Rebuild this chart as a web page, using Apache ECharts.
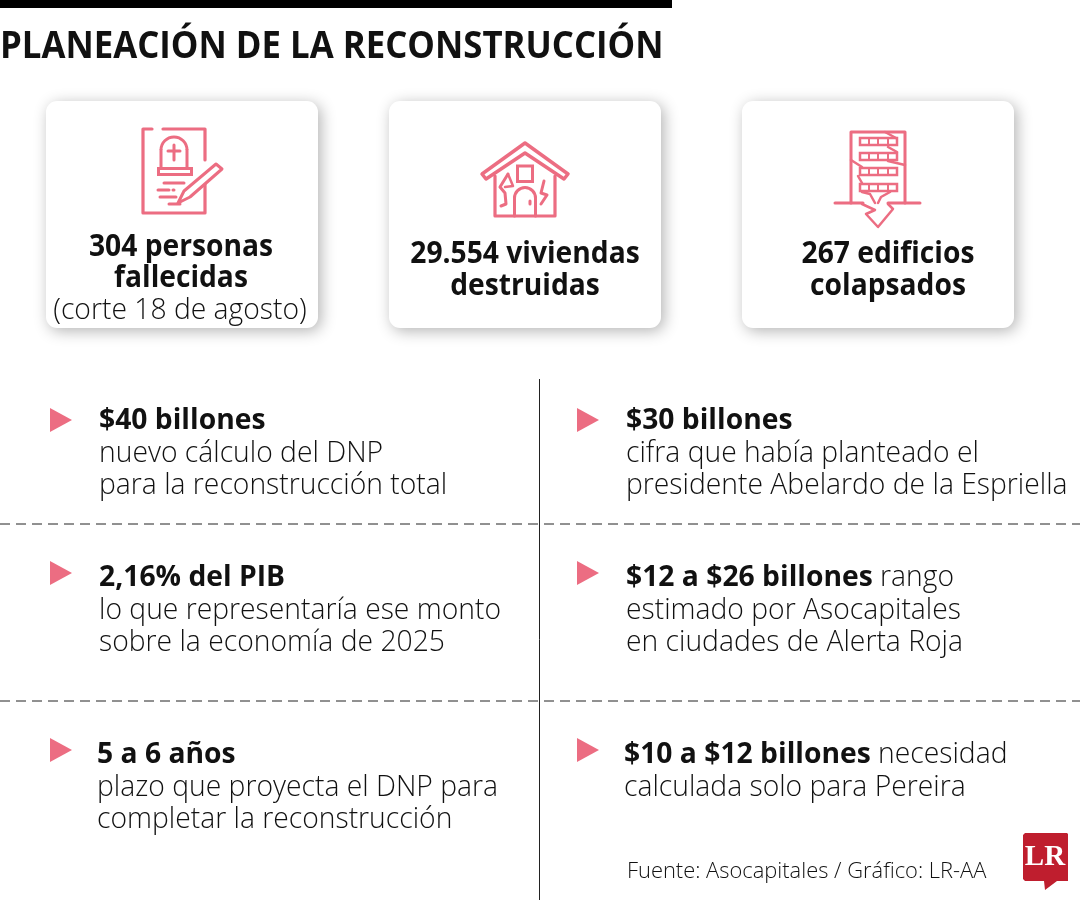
<!DOCTYPE html>
<html lang="es">
<head>
<meta charset="UTF-8">
<title>Planeación de la reconstrucción</title>
<script src="https://cdn.jsdelivr.net/npm/echarts@6/dist/echarts.min.js"></script>
<style>html,body{margin:0;background:#fff}#main{width:1080px;height:900px}</style>
</head>
<body>
<div id="main"></div>
<script>
const titleText = 'PLANEACIÓN DE LA RECONSTRUCCIÓN';
const cardLeads = [['304 personas', 'fallecidas'], ['29.554 viviendas', 'destruidas'], ['267 edificios', 'colapsados']];
const cardNote = '(corte 18 de agosto)';
const factsLeft = [
  ['{b|$40 billones}', 'nuevo cálculo del DNP', 'para la reconstrucción total'],
  ['{b|2,16% del PIB}', 'lo que representaría ese monto', 'sobre la economía de 2025'],
  ['{b|5 a 6 años}', 'plazo que proyecta el DNP para', 'completar la reconstrucción']
];
const factsRight = [
  ['{b|$30 billones}', 'cifra que había planteado el', 'presidente Abelardo de la Espriella'],
  ['{b|$12 a $26 billones} rango', 'estimado por Asocapitales', 'en ciudades de Alerta Roja'],
  ['{b|$10 a $12 billones} necesidad', 'calculada solo para Pereira']
];
const sourceText = 'Fuente: Asocapitales / Gráfico: LR-AA';

const PINK = '#ec6d82', INK = '#111', FONT = '"Open Sans"';
const els = [];

function text(x, y, str, size, weight, sx, align) {
  els.push({
    type: 'text', x: x, y: y, scaleX: sx || 1, z: 5,
    style: {
      text: str, fontFamily: FONT, fontSize: size, fontWeight: weight, fill: INK,
      align: align || 'left', verticalAlign: 'middle',
      rich: { b: { fontFamily: FONT, fontSize: size, fontWeight: 700, fill: INK } }
    }
  });
}
function line(points, width, color) {
  els.push({
    type: 'polyline', z: 4, shape: { points: points },
    style: { stroke: color || PINK, lineWidth: width || 3, fill: null, lineCap: 'round', lineJoin: 'round' }
  });
}
function box(x, y, w, h, width, r) {
  els.push({
    type: 'rect', z: 4, shape: { x: x, y: y, width: w, height: h, r: r || 0 },
    style: { stroke: PINK, lineWidth: width || 3, fill: null }
  });
}
function archTop(cx, cy, r) {
  els.push({
    type: 'arc', z: 4, shape: { cx: cx, cy: cy, r: r, startAngle: Math.PI, endAngle: 0, clockwise: true },
    style: { stroke: PINK, lineWidth: 3, fill: null }
  });
}

// header
els.push({ type: 'rect', shape: { x: 0, y: 0, width: 672, height: 8 }, style: { fill: '#000' } });
text(0, 47, titleText, 38, 700, 0.915);

// cards
[46, 389, 742].forEach(function (x) {
  els.push({
    type: 'rect', z: 2, shape: { x: x, y: 101, width: 272, height: 227, r: 11 },
    style: { fill: '#fff', shadowBlur: 15, shadowOffsetX: 3, shadowOffsetY: 3, shadowColor: 'rgba(0,0,0,0.3)' }
  });
});
text(181, 247, cardLeads[0][0], 30, 700, 0.94, 'center');
text(181, 278, cardLeads[0][1], 30, 700, 0.94, 'center');
text(180, 311, cardNote, 29, 300, 0.975, 'center');
text(525, 254, cardLeads[1][0], 30, 700, 0.94, 'center');
text(525, 286, cardLeads[1][1], 30, 700, 0.94, 'center');
text(888, 254, cardLeads[2][0], 30, 700, 0.94, 'center');
text(888, 286, cardLeads[2][1], 30, 700, 0.94, 'center');

// grave icon
line([[152, 129], [143, 129], [143, 213], [205, 213], [205, 181]], 3.2);
line([[163, 129], [205, 129], [205, 160]], 3.2);
archTop(174, 150, 13);
line([[161, 150], [161, 167]]);
line([[187, 150], [187, 167]]);
box(158.5, 168.5, 33, 6, 3);
line([[174, 145], [174, 160]]);
line([[168, 151], [180, 151]]);
line([[164, 183], [184, 183]]);
line([[158, 190], [169, 190]]);
line([[160, 197], [176, 197]]);
line([[169, 204], [180, 204]]);
line([[173, 190], [174, 190]]);
els.push({
  type: 'polygon', z: 4, shape: { points: [[184, 191], [216, 164], [222, 169], [190, 197], [178, 203]] },
  style: { stroke: PINK, lineWidth: 3, fill: '#fff', lineJoin: 'round' }
});

// house icon
els.push({
  type: 'polygon', z: 4, shape: { points: [[482, 174], [525, 143], [568, 174], [564, 179], [525, 153], [486, 179]] },
  style: { stroke: PINK, lineWidth: 3.5, fill: null, lineJoin: 'round' }
});
line([[495, 176], [495, 216], [555, 216], [555, 176]], 3.2);
box(517.5, 166, 15, 15.5, 3);
archTop(525, 198, 10.5);
line([[514.5, 198], [514.5, 216]]);
line([[535.5, 198], [535.5, 216]]);
line([[530, 201], [530, 204]]);
line([[508, 174], [500, 187], [505, 193], [506, 204], [501, 206]], 3);
line([[508, 174], [513, 186], [505, 187]], 2.5);
line([[544, 181], [541, 193], [547, 195], [541, 204]], 3);

// building icon
line([[851, 203], [851, 132], [905, 132], [905, 203]]);
line([[835, 203], [863, 203]]);
line([[888, 203], [920, 203]]);
[138, 153, 168, 184].forEach(function (y) {
  box(860, y, 37, 7, 2.5);
  [869, 878, 888].forEach(function (x) { line([[x, y], [x, y + 7]], 2); });
});
line([[885, 132], [896, 138]], 2.5);
line([[888, 147], [897, 152]], 2.5);
line([[888, 161], [905, 165]], 2.5);
line([[851, 160], [862, 167]], 2.5);
line([[858, 176], [862, 183]], 2.5);
line([[862, 192], [870, 194], [875, 203]], 2.5);
line([[890, 192], [881, 197], [878, 203]], 2.5);
line([[862, 204], [875, 210], [866, 214], [878, 227], [893, 209], [888, 204]], 2.5);

// dividers
els.push({ type: 'line', shape: { x1: 539.5, y1: 379, x2: 539.5, y2: 900 }, style: { stroke: '#222', lineWidth: 1 } });
[524, 701].forEach(function (y) {
  els.push({
    type: 'line', shape: { x1: 0, y1: y, x2: 1080, y2: y },
    style: { stroke: '#222', lineWidth: 1, lineDash: [10, 6] }
  });
});

// fact blocks
const rowY = [419, 576, 753];
const PITCH = 32.5;
function facts(list, tx, tri) {
  list.forEach(function (rows, i) {
    const y = rowY[i];
    const triTop = [408, 561, 738][i];
    els.push({
      type: 'polygon', shape: { points: [[tri, triTop], [tri + 22, triTop + 12], [tri, triTop + 24]] },
      style: { fill: PINK }
    });
    rows.forEach(function (s, j) {
      text(i === 2 ? tx - 2 : tx, y + j * PITCH + 2, s, 29, 300, 0.975);
    });
  });
}
facts(factsLeft, 99, 50);
facts(factsRight, 626, 577);

// footer and logo
text(627, 872, sourceText, 22, 300, 0.995);
els.push({
  type: 'polygon', z: 4, shape: { points: [[1025, 833], [1067, 833], [1068, 834], [1068, 881], [1057, 881], [1045, 890], [1044, 881], [1025, 881], [1023, 879], [1023, 835]] },
  style: { fill: '#bf1e2e' }
});
els.push({
  type: 'text', x: 1045, y: 858, z: 5,
  style: { text: 'LR', fontFamily: '"Liberation Serif"', fontSize: 29, fontWeight: 700, fill: '#fff', align: 'center', verticalAlign: 'middle' }
});

const chart = echarts.init(document.getElementById('main'));
chart.setOption({ animation: false, backgroundColor: '#fff', graphic: { elements: els } });
</script>
</body>
</html>
